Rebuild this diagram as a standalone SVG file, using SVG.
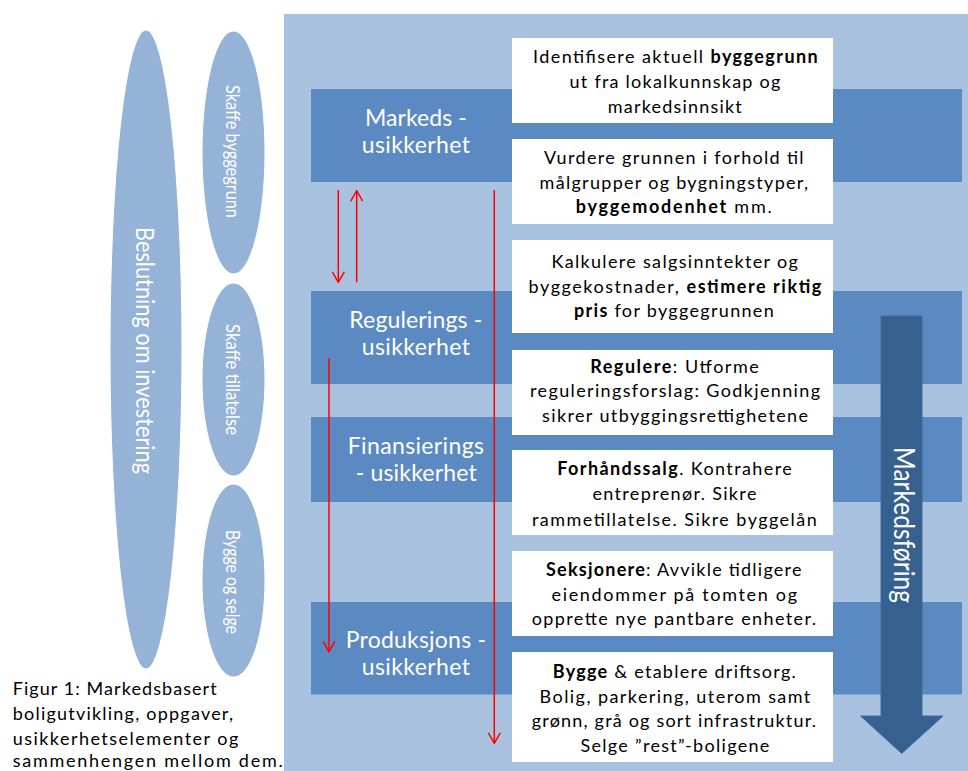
<svg xmlns="http://www.w3.org/2000/svg" width="968" height="771" viewBox="0 0 968 771">
<defs>
<style>
.ell{fill:#95b3d7;stroke:#ffffff;stroke-width:1}
.band{fill:#5b8ac3}
.box{fill:#ffffff}
.wt{font-family:Lato,"Liberation Sans",sans-serif;fill:#ffffff}
.bl{font-family:Lato,"Liberation Sans",sans-serif;fill:#000000;font-size:18px}
.lbl{font-family:Lato,"Liberation Sans",sans-serif;fill:#ffffff;font-size:23px}
.b{font-weight:bold}
.red{stroke:#ff0000;stroke-width:1.5;fill:none}
</style>
<marker id="v" viewBox="0 0 12 13" markerWidth="12" markerHeight="13" refX="11" refY="6.5" orient="auto" markerUnits="userSpaceOnUse">
<path d="M0.5,0.5 L11,6.5 L0.5,12.5" fill="none" stroke="#ff0000" stroke-width="1.5"/>
</marker>
</defs>
<rect width="968" height="771" fill="#ffffff"/>

<g id="panel"><rect x="284" y="14" width="684" height="757" fill="#a9c2df"/></g>

<g id="ellipse-beslutning">
<ellipse class="ell" cx="146" cy="349.5" rx="36" ry="319.5"/>
<text class="wt" font-size="25" transform="translate(136,350.5) rotate(90)" text-anchor="middle" textLength="247" lengthAdjust="spacingAndGlyphs">Beslutning om investering</text>
</g>
<g id="ellipse-byggegrunn">
<ellipse class="ell" cx="233.5" cy="152.5" rx="31.5" ry="121.5"/>
<text class="wt" font-size="19" transform="translate(226,151.5) rotate(90)" text-anchor="middle" textLength="133" lengthAdjust="spacingAndGlyphs">Skaffe byggegrunn</text>
</g>
<g id="ellipse-tillatelse">
<ellipse class="ell" cx="233.5" cy="379.5" rx="31.5" ry="96.5"/>
<text class="wt" font-size="19" transform="translate(226,379.5) rotate(90)" text-anchor="middle" textLength="111" lengthAdjust="spacingAndGlyphs">Skaffe tillatelse</text>
</g>
<g id="ellipse-bygge">
<ellipse class="ell" cx="233.5" cy="580.5" rx="31.5" ry="96.5"/>
<text class="wt" font-size="19" transform="translate(226,582) rotate(90)" text-anchor="middle" textLength="104" lengthAdjust="spacingAndGlyphs">Bygge og selge</text>
</g>

<g id="band-markeds">
<rect class="band" x="311" y="89" width="651" height="93"/>
<text class="lbl" x="365" y="125.7" textLength="101.7">Markeds -</text>
<text class="lbl" x="361.7" y="152.7" textLength="108.3">usikkerhet</text>
</g>
<g id="band-regulerings">
<rect class="band" x="311" y="291" width="651" height="93"/>
<text class="lbl" x="349.3" y="328.3" textLength="133">Regulerings -</text>
<text class="lbl" x="361.7" y="355" textLength="108.3">usikkerhet</text>
</g>
<g id="band-finansierings">
<rect class="band" x="311" y="417" width="651" height="85"/>
<text class="lbl" x="347.7" y="454" textLength="136.3">Finansierings</text>
<text class="lbl" x="355.7" y="481" textLength="121">- usikkerhet</text>
</g>
<g id="band-produksjons">
<rect class="band" x="311" y="602" width="651" height="92.5"/>
<text class="lbl" x="345.7" y="648.3" textLength="140.3">Produksjons -</text>
<text class="lbl" x="361.7" y="675" textLength="108.3">usikkerhet</text>
</g>

<g id="markedsforing">
<polygon points="881,316 922,316 922,716 943,716 901.7,753.5 860.7,716 881,716" fill="#36618f" stroke="#416c9d" stroke-width="1"/>
<text class="wt" font-size="29" transform="translate(894,525) rotate(90)" text-anchor="middle" textLength="156" lengthAdjust="spacingAndGlyphs">Markedsføring</text>
</g>

<g id="box1">
<rect class="box" x="512" y="38" width="321" height="85"/>
<text class="bl" x="533" y="63.3" textLength="284.7">Identifisere aktuell <tspan class="b">byggegrunn</tspan></text>
<text class="bl" x="569.6" y="88.2" textLength="210.7">ut fra lokalkunnskap og</text>
<text class="bl" x="607.8" y="112.7" textLength="134">markedsinnsikt</text>
</g>
<g id="box2">
<rect class="box" x="512" y="139" width="321" height="85"/>
<text class="bl" x="544" y="164" textLength="259.6">Vurdere grunnen i forhold til</text>
<text class="bl" x="539.6" y="188.5" textLength="268.4">målgrupper og bygningstyper,</text>
<text class="bl" x="575.7" y="212.8" textLength="196"><tspan class="b">byggemodenhet</tspan> mm.</text>
</g>
<g id="box3">
<rect class="box" x="512" y="240" width="321" height="93"/>
<text class="bl" x="551.5" y="268.3" textLength="246.4">Kalkulere salgsinntekter og</text>
<text class="bl" x="528.6" y="293" textLength="292.7">byggekostnader, <tspan class="b">estimere riktig</tspan></text>
<text class="bl" x="574" y="317.3" textLength="199.7"><tspan class="b">pris</tspan> for byggegrunnen</text>
</g>
<g id="box4">
<rect class="box" x="512" y="350" width="321" height="85"/>
<text class="bl" x="590.2" y="372.7" textLength="168.6"><tspan class="b">Regulere</tspan>: Utforme</text>
<text class="bl" x="530" y="397.3" textLength="290">reguleringsforslag: Godkjenning</text>
<text class="bl" x="542" y="421.8" textLength="266">sikrer utbyggingsrettighetene</text>
</g>
<g id="box5">
<rect class="box" x="512" y="450" width="321" height="85"/>
<text class="bl" x="557.3" y="475" textLength="234.5"><tspan class="b">Forhåndssalg</tspan>. Kontrahere</text>
<text class="bl" x="592.4" y="500" textLength="164">entreprenør. Sikre</text>
<text class="bl" x="532" y="525.5" textLength="284.7">rammetillatelse. Sikre byggelån</text>
</g>
<g id="box6">
<rect class="box" x="512" y="551" width="321" height="85"/>
<text class="bl" x="546" y="576" textLength="255.5"><tspan class="b">Seksjonere</tspan>: Avvikle tidligere</text>
<text class="bl" x="551.5" y="600.7" textLength="245.5">eiendommer på tomten og</text>
<text class="bl" x="531.7" y="625.3" textLength="284.3">opprette nye pantbare enheter.</text>
</g>
<g id="box7">
<rect class="box" x="512" y="652" width="321" height="110"/>
<text class="bl" x="552.8" y="678.3" textLength="243"><tspan class="b">Bygge</tspan> &amp; etablere driftsorg.</text>
<text class="bl" x="539.6" y="702.8" textLength="270.7">Bolig, parkering, uterom samt</text>
<text class="bl" x="531.7" y="727.3" textLength="284.3">grønn, grå og sort infrastruktur.</text>
<text class="bl" x="580.5" y="751.7" textLength="188.8">Selge ”rest”-boligene</text>
</g>

<g id="connectors">
<line class="red" x1="338.3" y1="190" x2="338.3" y2="282.3" marker-end="url(#v)"/>
<line class="red" x1="356.7" y1="282.3" x2="356.7" y2="190.7" marker-end="url(#v)"/>
<line class="red" x1="494.3" y1="190" x2="494.3" y2="743.3" marker-end="url(#v)"/>
<line class="red" x1="329" y1="358.3" x2="329" y2="651.7" marker-end="url(#v)"/>
</g>

<g id="caption">
<text class="bl" font-size="18" x="12.7" y="695" textLength="204">Figur 1: Markedsbasert</text>
<text class="bl" font-size="18" x="12.7" y="720" textLength="220.3">boligutvikling, oppgaver,</text>
<text class="bl" font-size="18" x="12.7" y="745" textLength="225.6">usikkerhetselementer og</text>
<text class="bl" font-size="18" x="12.7" y="766.5" textLength="270">sammenhengen mellom dem.</text>
</g>
</svg>
